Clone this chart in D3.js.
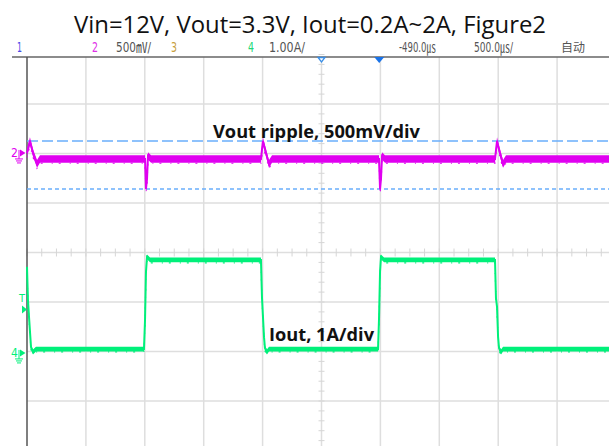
<!DOCTYPE html>
<html>
<head>
<meta charset="utf-8">
<script src="https://cdnjs.cloudflare.com/ajax/libs/d3/7.8.5/d3.min.js"></script>
<style>
  body { margin: 0; background: #fff; }
  svg { display: block; }
</style>
</head>
<body>
<div id="chart"></div>
<script>
// scope settings
var timePerDiv = 500;      // us/div
var ch2PerDiv = 500;       // mV/div
var ch4PerDiv = 1;         // A/div
var ch2Offset = 1.89;      // div
var ch4Offset = -2.15;     // div
var trigLevel = 1.0;       // A on ch4
var cursorMv = [182, -303];
var timeMarkers = [2500, 2990];

// ch2: Vout ripple (mV about nominal)
var vTime = [0, 25, 51, 85, 110, 1002, 1010, 1019, 1027, 1053, 1986, 2003, 2029, 2054, 2080,
  2988, 2997, 3005, 3014, 3039, 3973, 3990, 4015, 4041, 4066, 5000];
var vRipple = [60, 182, 60, -50, 0, 0, -303, -200, 30, 0, 0, 180, 60, -50, 0,
  0, -303, -200, 30, 0, 0, 180, 60, -50, 0, 0];

// ch4: Iout (A)
var iTime = [0, 8, 17, 34, 51, 76, 993, 1002, 1010, 1019, 1036, 1044,
  1986, 1995, 2012, 2020, 2037, 2054, 2980, 2988, 2997, 3005, 3022, 3031,
  3973, 3981, 3990, 3999, 4007, 4024, 4041, 5000];
var iLoad = [1.86, 1.2, 0.85, 0.24, 0.14, 0.2, 0.2, 0.79, 1.76, 2.06, 2.02, 2.0,
  2.0, 1.23, 0.44, 0.22, 0.14, 0.2, 0.2, 0.79, 1.76, 2.06, 2.02, 2.0,
  2.0, 1.23, 1.05, 0.44, 0.22, 0.14, 0.2, 0.2];

var title = "Vin=12V, Vout=3.3V, Iout=0.2A~2A, Figure2";
var topLabels = ["1", "2", "500㎷/", "3", "4", "1.00A/", "-490.0㎲", "500.0㎲/", "自动"];
var topColors = ["#4a4ae8", "#e030e8", "#555", "#c8a040", "#20d878", "#555", "#555", "#555", "#555"];
var topX = [17, 92, 116, 171, 248, 269, 399, 474, 561];
var topW = [5, 6, 35, 6, 6, 36, 37, 39, 24];

var W = 609, H = 446;
var svg = d3.select("#chart").append("svg").attr("width", W).attr("height", H);

var x = d3.scaleLinear().domain([0, 10 * timePerDiv]).range([27, 616]);
var y = d3.scaleLinear().domain([-4, 4]).range([450.5, 54.5]);

var purple = "#e000f0", green = "#00f07a", cursorBlue = "#6aaefc";

// grid
var grid = svg.append("g");
d3.range(1, 10).forEach(function (i) {
  grid.append("line").attr("x1", x(i * timePerDiv)).attr("x2", x(i * timePerDiv))
    .attr("y1", 57).attr("y2", H).attr("stroke", "#dedede").attr("stroke-width", 1.5);
});
d3.range(-3, 4).forEach(function (j) {
  grid.append("line").attr("x1", 27).attr("x2", W).attr("y1", y(j)).attr("y2", y(j))
    .attr("stroke", "#dedede").attr("stroke-width", 1.5);
});
// centre ticks
d3.range(0, 40.01).forEach(function (k) {
  var xx = x(k * timePerDiv / 4);
  grid.append("line").attr("x1", xx).attr("x2", xx).attr("y1", y(0) - 4).attr("y2", y(0) + 4)
    .attr("stroke", "#d6d6d6").attr("stroke-width", 1);
});
d3.range(-20, 21).forEach(function (k) {
  var yy = y(k / 5);
  grid.append("line").attr("x1", x(5 * timePerDiv) - 3).attr("x2", x(5 * timePerDiv) + 3)
    .attr("y1", yy).attr("y2", yy).attr("stroke", "#d6d6d6").attr("stroke-width", 1);
});

// frame
svg.append("line").attr("x1", 12).attr("x2", W).attr("y1", 57).attr("y2", 57)
  .attr("stroke", "#666").attr("stroke-width", 1.5);
svg.append("line").attr("x1", 27).attr("x2", 27).attr("y1", 57).attr("y2", H)
  .attr("stroke", "#555").attr("stroke-width", 1.5);

// cursors
svg.append("line").attr("x1", 27).attr("x2", W)
  .attr("y1", y(ch2Offset + cursorMv[0] / ch2PerDiv)).attr("y2", y(ch2Offset + cursorMv[0] / ch2PerDiv))
  .attr("stroke", cursorBlue).attr("stroke-width", 1.5).attr("stroke-dasharray", "11,4");
svg.append("line").attr("x1", 27).attr("x2", W)
  .attr("y1", y(ch2Offset + cursorMv[1] / ch2PerDiv)).attr("y2", y(ch2Offset + cursorMv[1] / ch2PerDiv))
  .attr("stroke", cursorBlue).attr("stroke-width", 1.5).attr("stroke-dasharray", "4,3");

// traces
function drawTrace(times, vals, toDiv, color, half) {
  var pts = times.map(function (t, i) { return [x(t), y(toDiv(vals[i]))]; });
  svg.append("path").datum(pts)
    .attr("d", d3.area().x(function (d) { return d[0]; })
      .y0(function (d) { return d[1] - half; }).y1(function (d) { return d[1] + half; }))
    .attr("fill", color);
  svg.append("path").datum(pts)
    .attr("d", d3.line())
    .attr("fill", "none").attr("stroke", color).attr("stroke-width", 2);
  svg.append("path").datum(pts.map(function (p) { return [p[0], p[1] + half + 0.5]; }))
    .attr("d", d3.line())
    .attr("fill", "none").attr("stroke", color).attr("stroke-width", 1.2)
    .attr("stroke-dasharray", "1,6,2,9");
}
drawTrace(vTime, vRipple, function (v) { return ch2Offset + v / ch2PerDiv; }, purple, 3.8);
drawTrace(iTime, iLoad, function (v) { return ch4Offset + v / ch4PerDiv; }, green, 2.4);

// ground markers
function groundMarker(label, div, color) {
  var yy = y(div) - 6;
  var g = svg.append("g").attr("fill", color).attr("stroke", color);
  g.append("text").attr("x", 11).attr("y", yy + 4).attr("stroke", "none")
    .attr("font-family", "DejaVu Sans Condensed, sans-serif").attr("font-size", 12).text(label);
  g.append("path").attr("d", "M20," + (yy - 3.5) + "L25.5," + yy + "L20," + (yy + 3.5) + "Z").attr("stroke", "none");
  g.append("line").attr("x1", 19).attr("x2", 19).attr("y1", yy - 3).attr("y2", yy + 6).attr("stroke-width", 1);
  [0, 2, 4].forEach(function (k, i) {
    g.append("line").attr("x1", 15 + i).attr("x2", 23 - i).attr("y1", yy + 6 + k).attr("y2", yy + 6 + k).attr("stroke-width", 1);
  });
}
groundMarker("2", ch2Offset, purple);
groundMarker("4", ch4Offset, green);

// trigger level
var ty = y(ch4Offset + trigLevel / ch4PerDiv);
svg.append("text").attr("x", 19).attr("y", ty - 7).attr("fill", green)
  .attr("font-family", "DejaVu Sans Condensed, sans-serif").attr("font-size", 11).text("T");
svg.append("path").attr("d", "M22," + (ty - 4) + "L27," + ty + "L22," + (ty + 4) + "Z").attr("fill", green);

// time markers
var m0 = x(timeMarkers[0]), m1 = x(timeMarkers[1]);
svg.append("path").attr("d", "M" + (m0 - 3.5) + ",57.5L" + (m0 + 3.5) + ",57.5L" + m0 + ",62Z")
  .attr("fill", "#fff").attr("stroke", "#3a8ee6").attr("stroke-width", 1.3);
svg.append("path").attr("d", "M" + (m1 - 5) + ",57L" + (m1 + 5) + ",57L" + m1 + ",63Z")
  .attr("fill", "#1a73e8");

// title and top bar
svg.append("text").attr("x", 74).attr("y", 33).attr("font-family", "Open Sans, sans-serif")
  .attr("font-size", 23).attr("fill", "#111")
  .attr("textLength", 472).attr("lengthAdjust", "spacingAndGlyphs").text(title);

svg.selectAll("text.bar").data(topLabels).enter().append("text").attr("class", "bar")
  .attr("x", function (d, i) { return topX[i]; }).attr("y", 51.5)
  .attr("font-family", "DejaVu Sans Condensed, Noto Sans CJK SC, sans-serif")
  .attr("font-size", function (d) { return d === "自动" ? 12 : 14; })
  .attr("fill", function (d, i) { return topColors[i]; })
  .attr("textLength", function (d, i) { return topW[i]; })
  .attr("lengthAdjust", "spacingAndGlyphs")
  .text(function (d) { return d; });

// annotations
svg.append("text").attr("x", 213).attr("y", 138).attr("font-family", "Open Sans, sans-serif")
  .attr("font-weight", "bold").attr("font-size", 17).attr("fill", "#111")
  .attr("textLength", 207).attr("lengthAdjust", "spacingAndGlyphs").text("Vout ripple, 500mV/div");
svg.append("text").attr("x", 269).attr("y", 341).attr("font-family", "Open Sans, sans-serif")
  .attr("font-weight", "bold").attr("font-size", 17).attr("fill", "#111")
  .attr("textLength", 105).attr("lengthAdjust", "spacingAndGlyphs").text("Iout, 1A/div");
</script>
</body>
</html>
